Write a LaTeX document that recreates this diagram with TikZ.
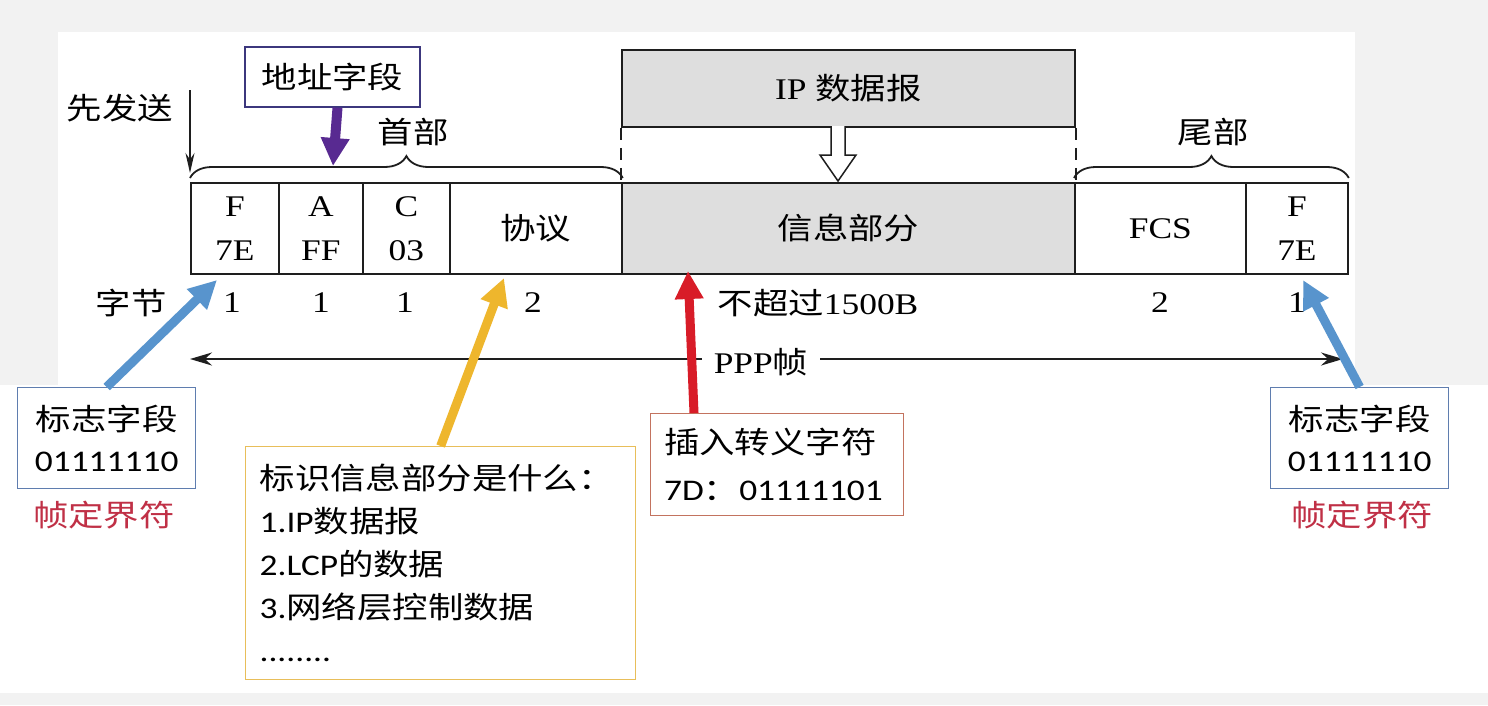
\documentclass[tikz,border=0pt]{standalone}
\usepackage{fontspec}
\setmainfont{Liberation Serif}[FakeStretch=1.18]
\newfontfamily\cjk{Noto Sans CJK SC}[FakeStretch=1.18]
\newfontfamily\carl{Carlito}[FakeStretch=1.18]
\usetikzlibrary{arrows.meta,decorations.pathreplacing,calc}
\newcommand{\zh}[1]{{\cjk #1}}
\definecolor{bggray}{RGB}{242,242,242}
\definecolor{linec}{RGB}{30,30,30}
\definecolor{infog}{RGB}{222,222,222}
\definecolor{addrc}{RGB}{60,55,125}
\definecolor{purplearr}{RGB}{88,42,145}
\definecolor{bluearr}{RGB}{88,148,205}
\definecolor{bluebox}{RGB}{95,125,175}
\definecolor{yelarr}{RGB}{238,182,45}
\definecolor{yelbox}{RGB}{232,190,90}
\definecolor{redarr}{RGB}{216,28,40}
\definecolor{redbox}{RGB}{195,115,95}
\definecolor{framered}{RGB}{192,48,70}
\tikzset{
  big/.style={font=\fontsize{30}{44}\selectfont, inner sep=0pt},
  ann/.style={font=\carl\fontsize{30}{43}\selectfont},
  cell/.style={draw=linec, line width=1.8pt, anchor=north west, minimum height=91pt,
    inner sep=0pt, align=center, font=\fontsize{30}{44}\selectfont},
  fatarrow/.style={line width=9pt, -{Triangle[length=28pt,width=27pt]}},
  thinarrow/.style={draw=linec, line width=1.6pt, -{Stealth[length=20pt,width=9pt]}},
  pppline/.style={draw=linec, line width=2pt, {Stealth[length=22pt,width=13pt]}-{Stealth[length=22pt,width=13pt]}},
  bracestyle/.style={draw=linec, line width=1.8pt, decorate, decoration={brace, amplitude=22pt}},
  annbox/.style={line width=1.3pt, anchor=north west, inner xsep=14pt, align=left, ann}
}
\begin{document}
\begin{tikzpicture}[x=1pt, y=-1pt]
\useasboundingbox (0,0) rectangle (1488,705);
% background
\fill[bggray] (0,0) rectangle (1488,705);
\fill[white] (58,32) rectangle (1355,385);
\fill[white] (0,385) rectangle (1488,693);

% frame cells
\node[cell, minimum width=88pt] (cF1) at (190,182) {F\\7E};
\node[cell, minimum width=84pt] (cA) at (278,182) {A\\FF};
\node[cell, minimum width=87pt] (cC) at (362,182) {C\\03};
\node[cell, minimum width=172pt] (cP) at (449,182) {\zh{协议}};
\node[cell, minimum width=453pt, fill=infog] (cInfo) at (621,182) {\zh{信息部分}};
\node[cell, minimum width=171pt] (cFCS) at (1074,182) {FCS};
\node[cell, minimum width=102pt] (cF2) at (1245,182) {F\\7E};

% IP datagram
\node[draw=linec, line width=1.8pt, fill=infog, anchor=north west, minimum width=453pt,
  minimum height=77pt, big] (ip) at (621,49) {IP \zh{数据报}};
\draw[draw=linec, line width=1.8pt, dash pattern=on 12pt off 8pt] (ip.south west) -- (cInfo.north west);
\draw[draw=linec, line width=1.8pt, dash pattern=on 12pt off 8pt] (ip.south east) -- (cInfo.north east);
\draw[draw=linec, line width=1.5pt, fill=white] (831,126) -- (831,155) -- (820,155) -- (838,181)
  -- (856,155) -- (845,155) -- (845,126);

% braces
\draw[bracestyle] (cF1.north west) ++(0,-4) coordinate (brL1) (brL1) -- ($(cP.north east)+(0,-4)$);
\draw[bracestyle] ($(cFCS.north west)+(0,-4)$) -- ($(cF2.north east)+(0,-4)$);
\node[big] (head) at (413,132) {\zh{首部}};
\node[big] (tail) at (1213,132) {\zh{尾部}};

% send first
\node[big] (first) at (120,108) {\zh{先发送}};
\coordinate (sendTop) at (190,90);
\coordinate (sendTip) at (190,173);
\draw[thinarrow] (sendTop) -- (sendTip);

% address field
\node[draw=addrc, line width=1.4pt, minimum width=175pt, minimum height=60pt, big] (addr) at (332.5,77) {\zh{地址字段}};
\coordinate (addrTip) at (333,166);
\draw[fatarrow, draw=purplearr, fill=purplearr, line width=10pt] ($(addr.south)+(5,0)$) -- (addrTip);

% bytes row
\node[big] (bytes) at (131,303) {\zh{字节}};
\node[big] (b1) at (232,303) {1};
\node[big] (b2) at (321,303) {1};
\node[big] (b3) at (405,303) {1};
\node[big] (b4) at (533,303) {2};
\node[big] (b5) at (818,303) {\zh{不超过}1500B};
\node[big] (b6) at (1160,303) {2};
\node[big] (b7) at (1297,303) {1};

% PPP frame
\coordinate (pppL) at (190,359);
\coordinate (pppR) at (1343,359);
\draw[pppline] (pppL) -- (pppR);
\node[big, fill=white, inner xsep=12pt, inner ysep=4pt] (ppp) at (761,362) {PPP\zh{帧}};

% annotation boxes
\node[annbox, draw=bluebox, minimum width=178pt, minimum height=101pt, inner xsep=0pt, align=center,
  font=\carl\fontsize{30}{41}\selectfont] (flagL) at (17,387) {\zh{标志字段}\\01111110};
\node[ann, text=framered] (delimL) at (104,515) {\zh{帧定界符}};
\node[annbox, draw=bluebox, minimum width=178pt, minimum height=101pt, inner xsep=0pt, align=center,
  font=\carl\fontsize{30}{41}\selectfont] (flagR) at (1270,387) {\zh{标志字段}\\01111110};
\node[ann, text=framered] (delimR) at (1362,515) {\zh{帧定界符}};

\node[annbox, draw=yelbox, minimum width=390pt, minimum height=233pt, text width=362pt] (what) at (245,446)
  {\zh{标识信息部分是什么：}\\1.IP\zh{数据报}\\2.LCP\zh{的数据}\\3.\zh{网络层控制数据}\\........};

\node[annbox, draw=redbox, minimum width=253pt, minimum height=102pt, text width=226pt, inner xsep=13pt,
  font=\carl\fontsize{30}{47}\selectfont] (esc) at (650,413) {\zh{插入转义字符}\\7D\zh{：}01111101};

% coloured arrows
\coordinate (tipL) at (217,280);
\coordinate (tipR) at (1303,280);
\coordinate (tipY) at (504,278);
\coordinate (tipRed) at (688,271);
\draw[fatarrow, draw=bluearr, fill=bluearr] (flagL.north) -- (tipL);
\draw[fatarrow, draw=bluearr, fill=bluearr] (flagR.north) -- (tipR);
\draw[fatarrow, draw=yelarr, fill=yelarr] (what.north) -- (tipY);
\draw[fatarrow, draw=redarr, fill=redarr] ($(esc.north west)+(44,0)$) -- (tipRed);
\end{tikzpicture}
\end{document}
